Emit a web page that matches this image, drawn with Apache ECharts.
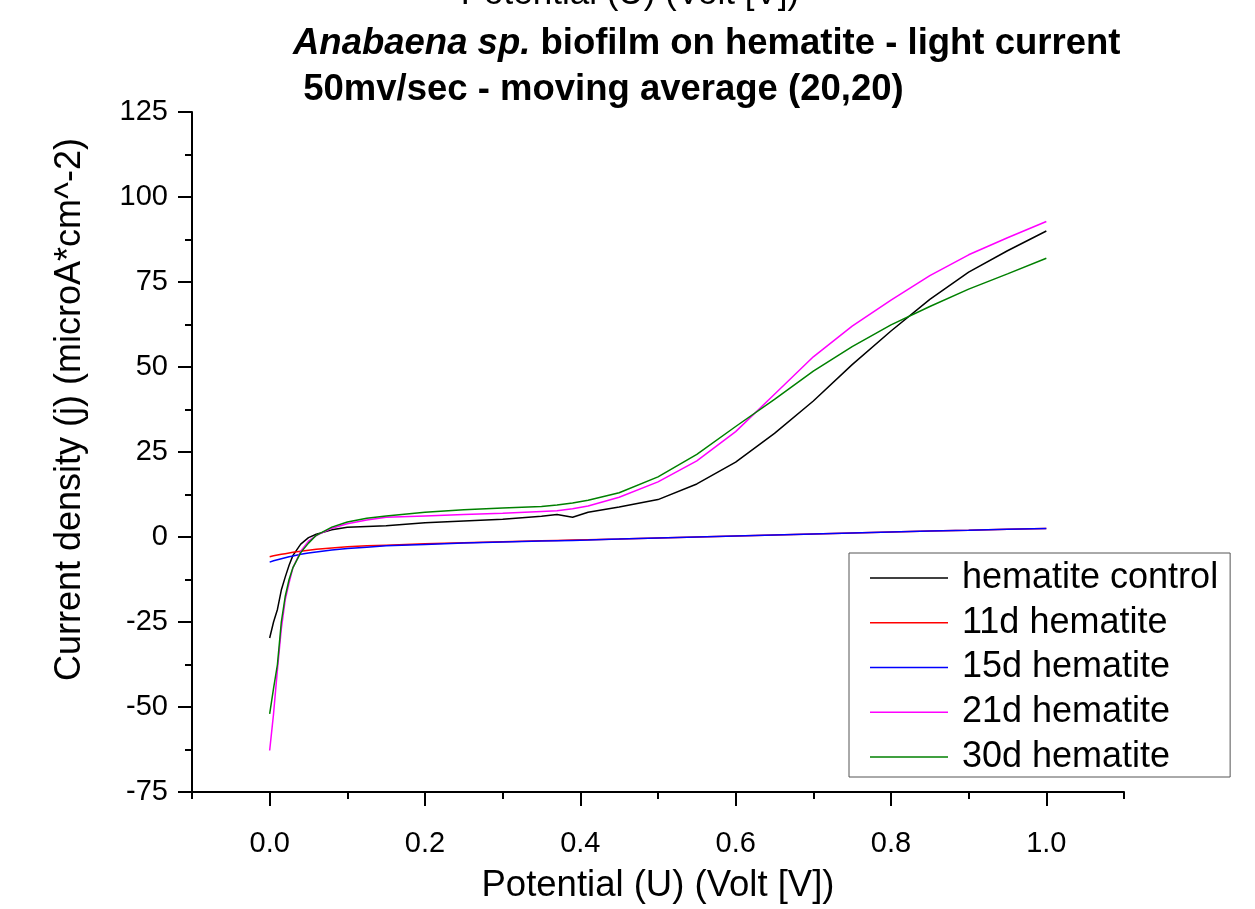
<!DOCTYPE html>
<html>
<head>
<meta charset="utf-8">
<script src="https://cdn.jsdelivr.net/npm/echarts@6/dist/echarts.min.js"></script>
<style>
  html, body { margin: 0; padding: 0; background: #fff; }
  #main { width: 1255px; height: 909px; }
</style>
</head>
<body>
<div id="main"></div>
<script>
var potential = [0, 0.005, 0.01, 0.015, 0.02, 0.025, 0.03, 0.04, 0.05, 0.06, 0.08, 0.1, 0.125, 0.15,
  0.2, 0.25, 0.3, 0.35, 0.37, 0.39, 0.41, 0.45, 0.5, 0.55, 0.6, 0.65, 0.7, 0.75, 0.8, 0.85, 0.9, 0.95, 1.0];

// current density (microA*cm^-2)
var control = [-29.7, -25, -21.3, -15.6, -11.8, -8.3, -5.4, -2.1, -0.2, 0.8, 2.1, 2.9, 3.1, 3.3,
  4.2, 4.7, 5.2, 6.1, 6.6, 5.8, 7.3, 8.8, 11.0, 15.6, 22.0, 30.5, 40.0, 50.7, 60.6, 69.9, 77.9, 84.2, 90.0];
var d11 = [-5.8, -5.5, -5.3, -5.1, -4.9, -4.7, -4.5, -4.2, -3.9, -3.6, -3.2, -2.9, -2.6, -2.4,
  -2.0, -1.7, -1.4, -1.1, -1.0, -0.9, -0.8, -0.6, -0.3, 0.0, 0.3, 0.6, 0.9, 1.2, 1.5, 1.8, 2.0, 2.3, 2.5];
var d15 = [-7.4, -7.0, -6.7, -6.4, -6.1, -5.8, -5.6, -5.1, -4.7, -4.4, -3.8, -3.4, -3.0, -2.6,
  -2.2, -1.8, -1.5, -1.2, -1.1, -1.0, -0.9, -0.6, -0.3, 0.0, 0.3, 0.6, 0.9, 1.2, 1.5, 1.8, 2.0, 2.3, 2.5];
var d21 = [-62.8, -52, -39, -27, -18.5, -13.5, -9.0, -4.2, -1.2, 0.4, 2.6, 3.9, 5.0, 5.8,
  6.2, 6.6, 7.0, 7.5, 7.7, 8.3, 9.1, 11.7, 16.2, 22.4, 31.0, 42.0, 53.0, 62.0, 69.7, 76.9, 83.0, 88.0, 92.8];
var d30 = [-52, -44.5, -37.5, -25, -17.5, -12.5, -9.0, -4.6, -1.8, 0.5, 2.9, 4.4, 5.5, 6.2,
  7.3, 8.0, 8.5, 9.0, 9.4, 10.0, 10.8, 13.0, 17.7, 24.3, 32.5, 40.5, 48.8, 56.0, 62.4, 67.8, 72.9, 77.4, 82.0];

var seriesNames = ['hematite control', '11d hematite', '15d hematite', '21d hematite', '30d hematite'];
var seriesColors = ['#000000', '#ff0000', '#0000ff', '#ff00ff', '#008000'];
var xTickLabels = ['-0.1', '0.0', '0.1', '0.2', '0.3', '0.4', '0.5', '0.6', '0.7', '0.8', '0.9', '1.0', '1.1'];

var FONT = '"Liberation Sans", Arial, sans-serif';

var chart = echarts.init(document.getElementById('main'));

function pairs(ys) {
  return potential.map(function (x, i) { return [x, ys[i]]; });
}
function everyOther(index) {
  return index % 2 === 1;
}

var allData = [control, d11, d15, d21, d30];
var series = allData.map(function (ys, k) {
  return {
    name: seriesNames[k],
    type: 'line',
    xAxisIndex: 0,
    yAxisIndex: 0,
    showSymbol: false,
    symbol: 'none',
    color: seriesColors[k],
    lineStyle: { color: seriesColors[k], width: 1.5 },
    data: pairs(ys)
  };
});

var option = {
  backgroundColor: '#fff',
  animation: false,
  title: {
    text: '{i|Anabaena sp.}{b| biofilm on hematite - light current}\n{b| 50mv/sec - moving average (20,20)}',
    left: 293,
    top: 21,
    padding: 0,
    textStyle: {
      rich: {
        i: { fontFamily: FONT, fontSize: 36.5, fontWeight: 'bold', fontStyle: 'italic', color: '#000', lineHeight: 46 },
        b: { fontFamily: FONT, fontSize: 36.5, fontWeight: 'bold', color: '#000', lineHeight: 46 }
      }
    }
  },
  graphic: [{
    type: 'text',
    x: 630,
    y: -6,
    style: {
      text: 'Potential (U) (Volt [V])',
      font: '35px ' + FONT,
      fill: '#000',
      align: 'center',
      verticalAlign: 'middle'
    }
  }],
  legend: {
    orient: 'vertical',
    left: 849,
    top: 553,
    padding: [5, 12, 0, 21],
    itemWidth: 78,
    itemHeight: 1.5,
    itemGap: 4.75,
    icon: 'rect',
    borderColor: '#555',
    borderWidth: 1,
    backgroundColor: '#fff',
    data: seriesNames,
    textStyle: { fontFamily: FONT, fontSize: 36, lineHeight: 40, color: '#000', padding: [0, 0, 0, 9] }
  },
  grid: { left: 192, right: 131, top: 112, bottom: 113, containLabel: false },
  xAxis: [{
    type: 'value',
    min: -0.1,
    max: 1.1,
    interval: 0.1,
    position: 'bottom',
    name: 'Potential (U) (Volt [V])',
    nameLocation: 'middle',
    nameGap: 75,
    nameTextStyle: { fontFamily: FONT, fontSize: 36.5, color: '#000' },
    axisLine: { onZero: false, lineStyle: { color: '#000', width: 2 } },
    axisTick: { length: 7, lineStyle: { color: '#000', width: 2 } },
    axisLabel: { show: false },
    splitLine: { show: false }
  }, {
    type: 'category',
    data: xTickLabels,
    boundaryGap: false,
    position: 'bottom',
    axisLine: { show: false, onZero: false },
    axisTick: { interval: everyOther, length: 14, lineStyle: { color: '#000', width: 2 } },
    axisLabel: { interval: everyOther, fontFamily: FONT, fontSize: 29, color: '#000', margin: 37 },
    splitLine: { show: false }
  }],
  yAxis: {
    type: 'value',
    min: -75,
    max: 125,
    interval: 25,
    name: 'Current density (j) (microA*cm^-2)',
    nameLocation: 'middle',
    nameGap: 104,
    nameTextStyle: { fontFamily: FONT, fontSize: 36, color: '#000', padding: [0, 0, 0, 85] },
    axisLine: { show: true, onZero: false, lineStyle: { color: '#000', width: 2 } },
    axisTick: { show: true, length: 14, lineStyle: { color: '#000', width: 2 } },
    minorTick: { show: true, splitNumber: 2, length: 7, lineStyle: { color: '#000', width: 2 } },
    axisLabel: { fontFamily: FONT, fontSize: 29, color: '#000', margin: 24 },
    splitLine: { show: false },
    minorSplitLine: { show: false }
  },
  series: series
};

chart.setOption(option);
</script>
</body>
</html>
